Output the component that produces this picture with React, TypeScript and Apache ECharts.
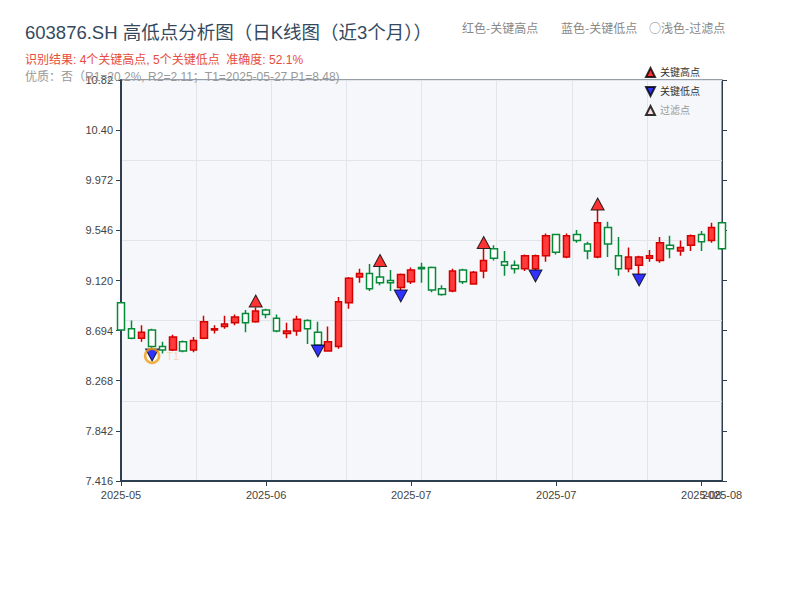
import { useRef, useEffect } from 'react'
import * as echarts from 'echarts'

const dates = [
  '2025-05-22', '2025-05-23', '2025-05-26', '2025-05-27', '2025-05-28', '2025-05-29', '2025-05-30',
  '2025-06-03', '2025-06-04', '2025-06-05', '2025-06-06', '2025-06-09', '2025-06-10', '2025-06-11',
  '2025-06-12', '2025-06-13', '2025-06-16', '2025-06-17', '2025-06-18', '2025-06-19', '2025-06-20',
  '2025-06-23', '2025-06-24', '2025-06-25', '2025-06-26', '2025-06-27', '2025-06-30', '2025-07-01',
  '2025-07-02', '2025-07-03', '2025-07-04', '2025-07-07', '2025-07-08', '2025-07-09', '2025-07-10',
  '2025-07-11', '2025-07-14', '2025-07-15', '2025-07-16', '2025-07-17', '2025-07-18', '2025-07-21',
  '2025-07-22', '2025-07-23', '2025-07-24', '2025-07-25', '2025-07-28', '2025-07-29', '2025-07-30',
  '2025-07-31', '2025-08-01', '2025-08-04', '2025-08-05', '2025-08-06', '2025-08-07', '2025-08-08',
  '2025-08-11', '2025-08-12', '2025-08-13',
]

const opens = [
  8.93, 8.71, 8.63, 8.70, 8.56, 8.53, 8.60, 8.53, 8.63, 8.70, 8.73, 8.76, 8.84, 8.77, 8.87,
  8.80, 8.67, 8.69, 8.78, 8.68, 8.52, 8.56, 8.93, 9.15, 9.18, 9.15, 9.12, 9.06, 9.11, 9.23,
  9.23, 9.05, 9.03, 9.21, 9.09, 9.20, 9.39, 9.28, 9.25, 9.22, 9.22, 9.33, 9.51, 9.32, 9.51,
  9.43, 9.32, 9.57, 9.33, 9.22, 9.25, 9.31, 9.29, 9.42, 9.37, 9.42, 9.51, 9.46, 9.61,
]
const closes = [
  8.70, 8.63, 8.68, 8.56, 8.53, 8.64, 8.52, 8.61, 8.77, 8.71, 8.75, 8.81, 8.76, 8.86, 8.83,
  8.69, 8.69, 8.79, 8.71, 8.57, 8.60, 8.94, 9.14, 9.18, 9.05, 9.10, 9.10, 9.17, 9.21, 9.22,
  9.04, 9.00, 9.20, 9.11, 9.19, 9.29, 9.31, 9.25, 9.22, 9.33, 9.33, 9.50, 9.36, 9.50, 9.46,
  9.37, 9.61, 9.43, 9.22, 9.32, 9.32, 9.33, 9.44, 9.39, 9.40, 9.50, 9.45, 9.57, 9.39,
]
const lows = [
  8.70, 8.62, 8.60, 8.54, 8.50, 8.52, 8.51, 8.51, 8.62, 8.67, 8.71, 8.74, 8.68, 8.76, 8.80,
  8.68, 8.63, 8.65, 8.58, 8.57, 8.52, 8.54, 8.88, 9.10, 9.03, 9.08, 9.03, 9.04, 9.09, 9.10,
  9.02, 8.99, 9.02, 9.09, 9.09, 9.14, 9.29, 9.16, 9.18, 9.20, 9.21, 9.28, 9.34, 9.31, 9.44,
  9.30, 9.31, 9.32, 9.16, 9.19, 9.17, 9.28, 9.27, 9.31, 9.33, 9.37, 9.37, 9.44, 9.38,
]
const highs = [
  8.93, 8.78, 8.74, 8.71, 8.60, 8.66, 8.61, 8.64, 8.82, 8.74, 8.82, 8.83, 8.87, 8.89, 8.88,
  8.83, 8.76, 8.82, 8.79, 8.77, 8.73, 8.98, 9.15, 9.22, 9.26, 9.24, 9.21, 9.18, 9.23, 9.27,
  9.24, 9.08, 9.22, 9.22, 9.20, 9.39, 9.42, 9.37, 9.29, 9.34, 9.34, 9.52, 9.51, 9.52, 9.55,
  9.45, 9.72, 9.62, 9.49, 9.40, 9.33, 9.38, 9.49, 9.50, 9.46, 9.51, 9.54, 9.61, 9.62,
]

// key points: category index + marker price
const keyHighIdx = [13, 25, 35, 46]
const keyHighVal = [8.946, 9.29, 9.443, 9.77]
const keyLowIdx = [3, 19, 27, 40, 50]
const keyLowVal = [8.487, 8.521, 8.988, 9.158, 9.124]
const t1Idx = 3
const t1Price = 8.48

const yTicks = [7.416, 7.842, 8.268, 8.694, 9.12, 9.546, 9.972, 10.398, 10.824]

const FONT = '"Liberation Sans", "Noto Sans CJK SC", sans-serif'
const CJK_FONT = '"Noto Sans CJK SC", "Liberation Sans", sans-serif'
const AXIS_DARK = '#2c3e50'
const DOWN_TRI = 'path://M0,0 L10,0 L5,10 Z'

const noteStyle = { fontSize: 12, fontWeight: 'normal', color: '#888', fontFamily: CJK_FONT }

export default function App() {
  const chartRef = useRef<HTMLDivElement>(null)

  useEffect(() => {
    if (!chartRef.current) return
    const chart = echarts.init(chartRef.current, null, { renderer: 'svg' })

    const kData = opens.map((o, i) => [o, closes[i], lows[i], highs[i]])
    const yMin = yTicks[0]
    const yMax = yTicks[yTicks.length - 1]
    const lastIdx = dates.length - 1

    chart.setOption({
      animation: false,
      textStyle: { fontFamily: FONT },
      title: [
        { text: '603876.SH 高低点分析图（日K线图（近3个月））', left: 20, top: 18, textStyle: { fontSize: 18.5, fontWeight: 'normal', color: '#34495e', fontFamily: FONT } },
        { text: '识别结果: 4个关键高点, 5个关键低点  准确度: 52.1%', left: 20, top: 49, textStyle: { fontSize: 12, fontWeight: 'normal', color: '#e74c3c', fontFamily: FONT } },
        { text: '优质：否（R1=20.2%, R2=2.11；T1=2025-05-27 P1=8.48)', left: 20, top: 66, textStyle: { fontSize: 12, fontWeight: 'normal', color: '#999', fontFamily: FONT } },
        { text: '红色-关键高点', left: 457, top: 16, textStyle: noteStyle },
        { text: '蓝色-关键低点', left: 556, top: 16, textStyle: noteStyle },
        { text: '○浅色-过滤点', left: 644, top: 16, textStyle: noteStyle },
      ],
      legend: {
        orient: 'vertical',
        left: 640,
        top: 62,
        itemWidth: 9,
        itemHeight: 9,
        itemGap: 8,
        selectedMode: false,
        textStyle: { fontSize: 10, color: '#333', fontFamily: FONT },
        data: [
          { name: '关键高点', icon: 'triangle' },
          { name: '关键低点', icon: DOWN_TRI },
          { name: '过滤点', icon: 'triangle', textStyle: { color: '#999' } },
        ],
      },
      grid: {
        left: 121, right: 78, top: 80, bottom: 119,
        show: true, backgroundColor: '#f5f7fa', borderColor: AXIS_DARK, borderWidth: 1,
      },
      xAxis: [
        {
          type: 'category',
          data: dates,
          boundaryGap: false,
          axisLine: { lineStyle: { color: AXIS_DARK, width: 2 } },
          axisTick: { interval: 13, length: 5, lineStyle: { color: AXIS_DARK } },
          axisLabel: {
            interval: (i: number) => i % 14 === 0, hideOverlap: false,
            color: '#444', fontSize: 11, margin: 8,
            formatter: (v: string) => v.slice(0, 7),
          },
          splitLine: { show: false },
        },
        {
          type: 'value', min: 0, max: 8, interval: 1, position: 'top',
          axisLine: { show: false }, axisTick: { show: false }, axisLabel: { show: false },
          splitLine: { show: true, lineStyle: { color: '#e1e5eb', width: 1 } },
        },
        {
          // last date label, drawn on its own axis so it can sit over its neighbour
          type: 'category',
          data: dates,
          boundaryGap: false,
          position: 'bottom',
          axisLine: { show: false },
          axisTick: { show: false },
          axisLabel: {
            interval: (i: number) => i === lastIdx, hideOverlap: false,
            color: '#444', fontSize: 11, margin: 8,
            formatter: (v: string) => v.slice(0, 7),
          },
          splitLine: { show: false },
        },
      ],
      yAxis: [
        {
          type: 'value', min: yMin, max: yMax, scale: true,
          axisLine: { show: true, lineStyle: { color: AXIS_DARK, width: 2 } },
          axisTick: { show: true, length: 5, customValues: yTicks, lineStyle: { color: AXIS_DARK } },
          axisLabel: {
            customValues: yTicks, color: '#444', fontSize: 11, margin: 8,
            formatter: (v: number) => Number(v).toPrecision(4),
          },
          splitLine: { show: false },
        },
        {
          type: 'value', min: yMin, max: yMax, position: 'right',
          axisLine: { show: true, lineStyle: { color: AXIS_DARK, width: 1 } },
          axisTick: { show: true, length: 5, customValues: yTicks, lineStyle: { color: AXIS_DARK } },
          axisLabel: { show: false },
          splitLine: { show: false },
        },
        {
          type: 'value', min: 0, max: 5, interval: 1,
          axisLine: { show: false }, axisTick: { show: false }, axisLabel: { show: false },
          splitLine: { show: true, lineStyle: { color: '#e1e5eb', width: 1 } },
        },
      ],
      series: [
        {
          name: 'K线',
          type: 'candlestick',
          data: kData,
          barWidth: 7,
          itemStyle: {
            color: '#ff3b3b',
            color0: '#ffffff',
            borderColor: '#d40000',
            borderColor0: '#08893a',
            borderWidth: 1.5,
          },
          z: 2,
        },
        {
          name: '关键高点',
          type: 'scatter',
          data: keyHighIdx.map((i, k) => [i, keyHighVal[k]]),
          symbol: 'triangle',
          symbolSize: [13, 12],
          itemStyle: { color: '#ff0000', borderColor: '#000', borderWidth: 1 },
          z: 5,
        },
        {
          name: '关键低点',
          type: 'scatter',
          data: keyLowIdx.map((i, k) => [i, keyLowVal[k]]),
          symbol: DOWN_TRI,
          symbolSize: [13, 12],
          itemStyle: { color: '#0000ff', borderColor: '#000', borderWidth: 1 },
          z: 5,
        },
        {
          name: '过滤点',
          type: 'scatter',
          data: [],
          symbol: 'triangle',
          symbolSize: 8,
          itemStyle: { color: '#ffd6d6', borderColor: '#000', borderWidth: 1 },
        },
        {
          name: 'T1',
          type: 'scatter',
          data: [[t1Idx, t1Price]],
          symbol: 'circle',
          symbolSize: 14,
          itemStyle: { color: 'rgba(0,0,0,0)', borderColor: '#f39c12', borderWidth: 2.5 },
          label: {
            show: true, position: 'right', distance: 6, formatter: 'T1',
            color: 'rgba(243,156,18,0.45)', fontSize: 11,
          },
          z: 6,
        },
      ],
    })

    return () => chart.dispose()
  }, [])

  return (
    <div
      ref={chartRef}
      style={{ position: 'fixed', left: 0, top: 0, width: 800, height: 600, background: '#fff' }}
    />
  )
}
